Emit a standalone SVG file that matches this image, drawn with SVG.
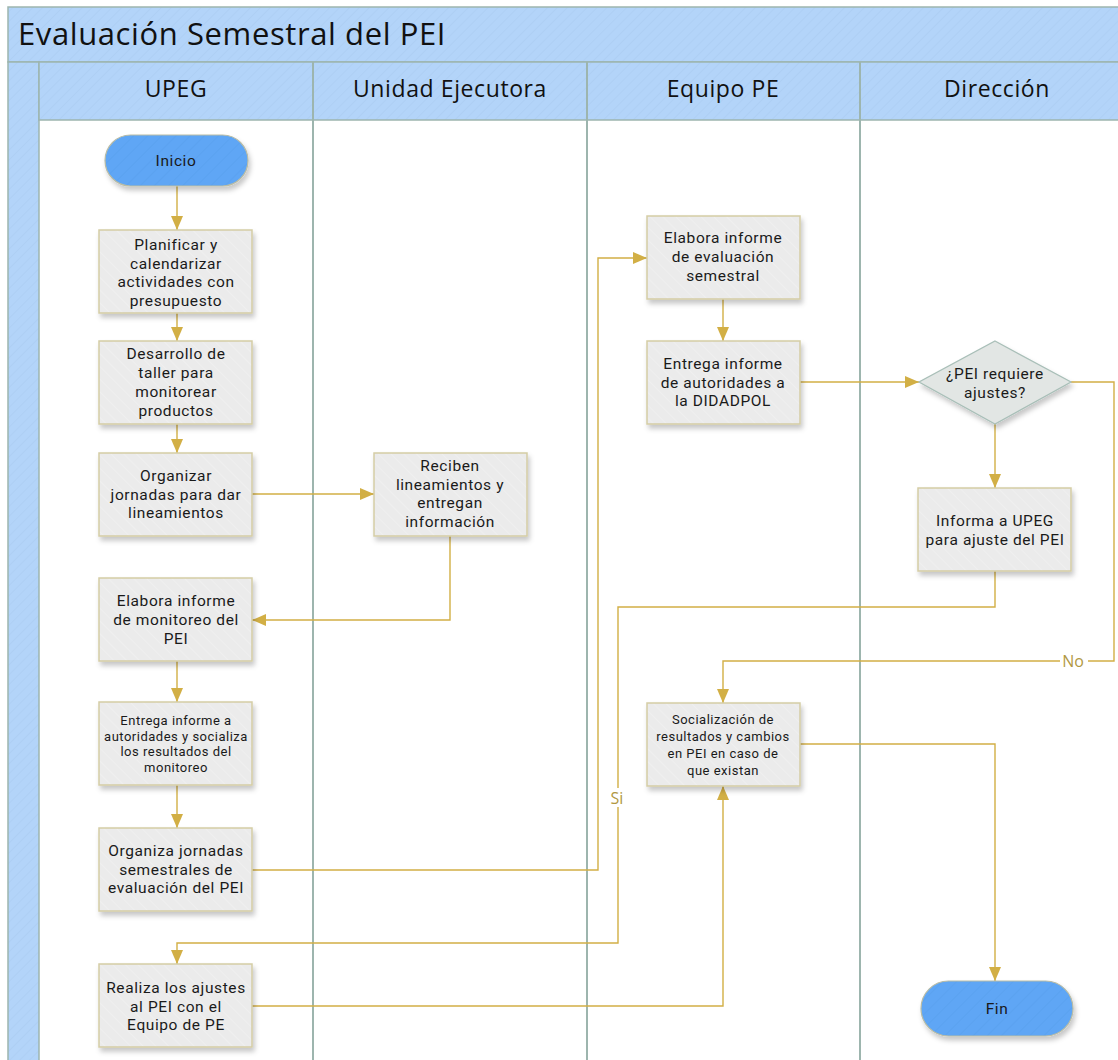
<svg xmlns="http://www.w3.org/2000/svg" width="1118" height="1060" viewBox="0 0 1118 1060">
  <defs>
    <pattern id="hatchBlue" patternUnits="userSpaceOnUse" width="7" height="7" patternTransform="rotate(45)">
      <rect width="7" height="7" fill="#b3d4f9"/>
      <line x1="0" y1="0" x2="0" y2="7" stroke="#a9cbf0" stroke-width="1"/>
    </pattern>
    <pattern id="hatchGray" patternUnits="userSpaceOnUse" width="9" height="9" patternTransform="rotate(-45)">
      <rect width="9" height="9" fill="#ebebeb"/>
      <line x1="0" y1="0" x2="0" y2="9" stroke="#f3f3f3" stroke-width="1.2"/>
    </pattern>
    <pattern id="hatchTerm" patternUnits="userSpaceOnUse" width="10" height="10" patternTransform="rotate(45)">
      <rect width="10" height="10" fill="#5ea6f5"/>
      <line x1="0" y1="0" x2="0" y2="10" stroke="#58a0ee" stroke-width="1.2"/>
    </pattern>
    <filter id="shadow" x="-10%" y="-10%" width="130%" height="140%">
      <feDropShadow dx="2" dy="4" stdDeviation="2.5" flood-color="#000" flood-opacity="0.22"/>
    </filter>
    <marker id="arrow" markerUnits="userSpaceOnUse" markerWidth="14" markerHeight="12" viewBox="0 0 14 12" refX="14" refY="6" orient="auto">
      <path d="M0,0 L14,6 L0,12 z" fill="#d2af45"/>
    </marker>
    <style>
      .frame { fill: url(#hatchBlue); stroke: #9db5ae; stroke-width: 1.5; }
      .divider { stroke: #9db5ae; stroke-width: 2; fill: none; }
      .title { font-family: "Open Sans", "Noto Sans", sans-serif; font-size: 31px; letter-spacing: 0.6px; fill: #111; }
      .lane { font-family: "Open Sans", "Noto Sans", sans-serif; font-size: 23px; letter-spacing: 0.6px; fill: #111; text-anchor: middle; }
      .box { fill: url(#hatchGray); stroke: #d5cda5; stroke-width: 1.5; filter: url(#shadow); }
      .diamond { fill: #e2e6e4; stroke: #a9bfb8; stroke-width: 1.3; filter: url(#shadow); }
      .term { fill: url(#hatchTerm); stroke: #b9bca6; stroke-width: 1.2; filter: url(#shadow); }
      .t { font-family: Roboto, "Liberation Sans", sans-serif; font-size: 15.5px; letter-spacing: 0.6px; fill: #1a1a1a; text-anchor: middle; }
      .ts { font-family: Roboto, "Liberation Sans", sans-serif; font-size: 13px; letter-spacing: 0.5px; fill: #1a1a1a; text-anchor: middle; }
      .conn { fill: none; stroke: #d2af45; stroke-width: 1.4; }
      .lbl { font-family: "Open Sans", "Noto Sans", sans-serif; font-size: 16px; fill: #b19843; text-anchor: middle; }
    </style>
  </defs>

  <rect width="1118" height="1060" fill="#ffffff"/>

  <!-- Pool: title band, left band, lane headers -->
  <g id="pool">
    <rect class="frame" x="8" y="7" width="1118" height="55"/>
    <rect class="frame" x="8" y="62" width="31" height="1010"/>
    <rect class="frame" x="39" y="62" width="1090" height="58"/>
    <text class="title" x="18" y="45">Evaluación Semestral del PEI</text>
    <line class="divider" x1="313" y1="62" x2="313" y2="1060"/>
    <line class="divider" x1="587" y1="62" x2="587" y2="1060"/>
    <line class="divider" x1="860" y1="62" x2="860" y2="1060"/>
    <text class="lane" x="176" y="97">UPEG</text>
    <text class="lane" x="450" y="97">Unidad Ejecutora</text>
    <text class="lane" x="723" y="97">Equipo PE</text>
    <text class="lane" x="997" y="97">Dirección</text>
  </g>

  <!-- Connectors -->
  <g id="connectors">
    <path class="conn" d="M177,186 V230" marker-end="url(#arrow)"/>
    <path class="conn" d="M177,313 V341" marker-end="url(#arrow)"/>
    <path class="conn" d="M177,424 V453" marker-end="url(#arrow)"/>
    <path class="conn" d="M252,494 H374" marker-end="url(#arrow)"/>
    <path class="conn" d="M450,536 V620 H252" marker-end="url(#arrow)"/>
    <path class="conn" d="M177,661 V702" marker-end="url(#arrow)"/>
    <path class="conn" d="M177,785 V828" marker-end="url(#arrow)"/>
    <path class="conn" d="M252,870 H598 V258 H647" marker-end="url(#arrow)"/>
    <path class="conn" d="M723,299 V341" marker-end="url(#arrow)"/>
    <path class="conn" d="M800,382 H919" marker-end="url(#arrow)"/>
    <path class="conn" d="M995,424 V488" marker-end="url(#arrow)"/>
    <path class="conn" d="M995,571 V607 H618 V943 H177 V964" marker-end="url(#arrow)"/>
    <path class="conn" d="M1071,382 H1114 V661 H723 V703" marker-end="url(#arrow)"/>
    <path class="conn" d="M800,744 H995 V981" marker-end="url(#arrow)"/>
    <path class="conn" d="M252,1006 H723 V786" marker-end="url(#arrow)"/>
    <rect x="608" y="788" width="20" height="19" fill="#ffffff"/>
    <text class="lbl" x="617" y="804">Si</text>
    <rect x="1060" y="652" width="28" height="18" fill="#ffffff"/>
    <text class="lbl" x="1073" y="667">No</text>
  </g>

  <!-- UPEG lane -->
  <g id="inicio">
    <rect class="term" x="105" y="135" width="143" height="51" rx="25.5"/>
    <text class="t" x="176" y="166">Inicio</text>
  </g>
  <g id="planificar">
    <rect class="box" x="99" y="230" width="153" height="83"/>
    <text class="t" x="176" y="250"><tspan x="176">Planificar y</tspan><tspan x="176" dy="18.5">calendarizar</tspan><tspan x="176" dy="18.5">actividades con</tspan><tspan x="176" dy="18.5">presupuesto</tspan></text>
  </g>
  <g id="desarrollo">
    <rect class="box" x="99" y="341" width="153" height="83"/>
    <text class="t" x="176" y="359"><tspan x="176">Desarrollo de</tspan><tspan x="176" dy="19">taller para</tspan><tspan x="176" dy="19">monitorear</tspan><tspan x="176" dy="19">productos</tspan></text>
  </g>
  <g id="organizar">
    <rect class="box" x="99" y="453" width="153" height="83"/>
    <text class="t" x="176" y="481"><tspan x="176">Organizar</tspan><tspan x="176" dy="18.5">jornadas para dar</tspan><tspan x="176" dy="18.5">lineamientos</tspan></text>
  </g>
  <g id="elabora-monitoreo">
    <rect class="box" x="99" y="578" width="153" height="83"/>
    <text class="t" x="176" y="606"><tspan x="176">Elabora informe</tspan><tspan x="176" dy="19">de monitoreo del</tspan><tspan x="176" dy="19">PEI</tspan></text>
  </g>
  <g id="entrega-autoridades">
    <rect class="box" x="99" y="702" width="153" height="83"/>
    <text class="ts" x="176" y="725"><tspan x="176">Entrega informe a</tspan><tspan x="176" dy="15.5">autoridades y socializa</tspan><tspan x="176" dy="15.5">los resultados del</tspan><tspan x="176" dy="15.5">monitoreo</tspan></text>
  </g>
  <g id="organiza-semestrales">
    <rect class="box" x="99" y="828" width="153" height="83"/>
    <text class="t" x="176" y="856"><tspan x="176">Organiza jornadas</tspan><tspan x="176" dy="18.5">semestrales de</tspan><tspan x="176" dy="18.5">evaluación del PEI</tspan></text>
  </g>
  <g id="realiza-ajustes">
    <rect class="box" x="99" y="964" width="153" height="83"/>
    <text class="t" x="176" y="993"><tspan x="176">Realiza los ajustes</tspan><tspan x="176" dy="18.5">al PEI con el</tspan><tspan x="176" dy="18.5">Equipo de PE</tspan></text>
  </g>

  <!-- Unidad Ejecutora lane -->
  <g id="reciben">
    <rect class="box" x="374" y="453" width="153" height="83"/>
    <text class="t" x="450" y="471"><tspan x="450">Reciben</tspan><tspan x="450" dy="18.5">lineamientos y</tspan><tspan x="450" dy="18.5">entregan</tspan><tspan x="450" dy="18.5">información</tspan></text>
  </g>

  <!-- Equipo PE lane -->
  <g id="elabora-evaluacion">
    <rect class="box" x="647" y="216" width="153" height="83"/>
    <text class="t" x="723" y="243"><tspan x="723">Elabora informe</tspan><tspan x="723" dy="19">de evaluación</tspan><tspan x="723" dy="19">semestral</tspan></text>
  </g>
  <g id="entrega-didadpol">
    <rect class="box" x="647" y="341" width="153" height="83"/>
    <text class="t" x="723" y="369"><tspan x="723">Entrega informe</tspan><tspan x="723" dy="18.5">de autoridades a</tspan><tspan x="723" dy="18.5">la DIDADPOL</tspan></text>
  </g>
  <g id="socializacion">
    <rect class="box" x="647" y="703" width="153" height="83"/>
    <text class="ts" x="723" y="724"><tspan x="723">Socialización de</tspan><tspan x="723" dy="17">resultados y cambios</tspan><tspan x="723" dy="17">en PEI en caso de</tspan><tspan x="723" dy="17">que existan</tspan></text>
  </g>

  <!-- Dirección lane -->
  <g id="decision">
    <polygon class="diamond" points="995,341 1071,382 995,424 919,382"/>
    <text class="t" x="995" y="379"><tspan x="995">¿PEI requiere</tspan><tspan x="995" dy="18.5">ajustes?</tspan></text>
  </g>
  <g id="informa-upeg">
    <rect class="box" x="918" y="488" width="153" height="83"/>
    <text class="t" x="995" y="526"><tspan x="995">Informa a UPEG</tspan><tspan x="995" dy="19">para ajuste del PEI</tspan></text>
  </g>
  <g id="fin">
    <rect class="term" x="921" y="981" width="152" height="55" rx="27.5"/>
    <text class="t" x="997" y="1014">Fin</text>
  </g>
</svg>
